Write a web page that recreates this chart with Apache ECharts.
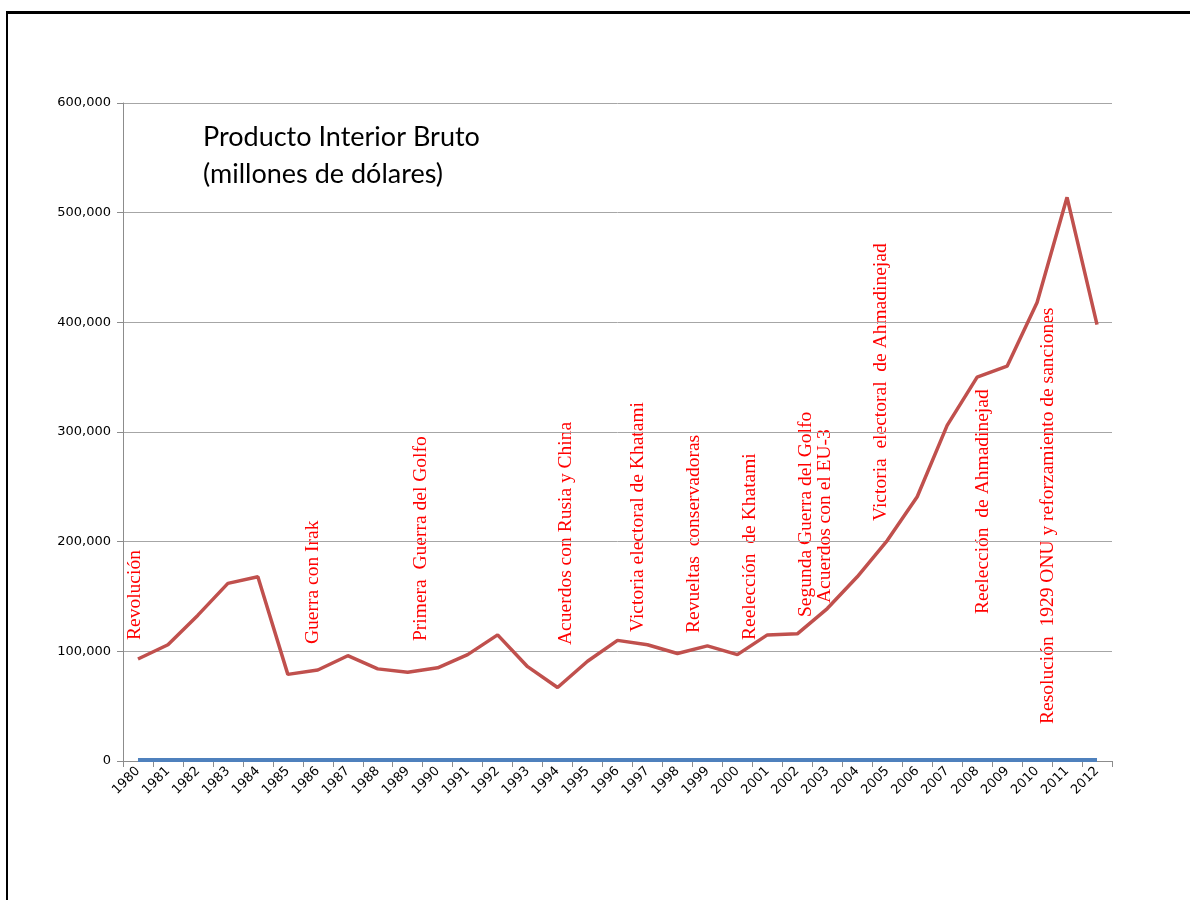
<!DOCTYPE html>
<html>
<head>
<meta charset="utf-8">
<script src="https://cdn.jsdelivr.net/npm/echarts@6/dist/echarts.min.js"></script>
<style>
  html, body { margin: 0; padding: 0; background: #fff; }
  #frame { position: absolute; left: 6px; top: 11px; width: 1190px; height: 900px;
           border-left: 2px solid #000; border-top: 3px solid #000; }
  #chart { position: absolute; left: 0; top: 0; width: 1190px; height: 900px; }
</style>
</head>
<body>
<div id="frame"></div>
<div id="chart"></div>
<script>
// años
const years = ["1980","1981","1982","1983","1984","1985","1986","1987","1988","1989","1990",
  "1991","1992","1993","1994","1995","1996","1997","1998","1999","2000","2001","2002",
  "2003","2004","2005","2006","2007","2008","2009","2010","2011","2012"];

// PIB, millones de dólares
const pib = [93000,106000,133000,162000,168000,79000,83000,96000,84000,81000,85000,
  97000,115000,86000,67000,91000,110000,106000,98000,105000,97000,115000,116000,
  139000,168000,201000,241000,306000,350000,360000,418000,514000,398000];

// segunda serie (casi cero)
const serieAzul = [1000,1000,1000,1000,1000,1000,1000,1000,1000,1000,1000,
  1000,1000,1000,1000,1000,1000,1000,1000,1000,1000,1000,1000,
  1000,1000,1000,1000,1000,1000,1000,1000,1000,1000];

// anotaciones: texto, x, y (base del texto)
const eventos = [
  ["Revolución", 135, 640],
  ["Guerra con Irak", 313, 644],
  ["Primera  Guerra del Golfo", 421, 641],
  ["Acuerdos con Rusia y China", 566, 645],
  ["Victoria electoral de Khatami", 638, 632],
  ["Revueltas  conservadoras", 694, 633],
  ["Reelección  de Khatami", 750, 640],
  ["Segunda Guerra del Golfo", 806, 617],
  ["Acuerdos con el EU-3", 825, 603],
  ["Victoria  electoral  de Ahmadinejad", 881, 521],
  ["Reelección  de Ahmadinejad", 983, 614],
  ["Resolución  1929 ONU y reforzamiento de sanciones", 1048, 724]
];

const chart = echarts.init(document.getElementById("chart"), null, { renderer: "canvas" });

const option = {
  animation: false,
  backgroundColor: "transparent",
  grid: { left: 123, right: 78, top: 103, bottom: 139 },
  xAxis: {
    type: "category",
    data: years,
    boundaryGap: true,
    axisLine: { lineStyle: { color: "#8c8c8c", width: 1 } },
    axisTick: { show: true, length: 6, inside: false, lineStyle: { color: "#8c8c8c" } },
    axisLabel: {
      interval: 0, rotate: 45, margin: 8,
      fontFamily: "DejaVu Sans", fontSize: 13, color: "#000"
    },
    splitLine: { show: false }
  },
  yAxis: {
    type: "value",
    min: 0, max: 600000, interval: 100000,
    axisLine: { show: true, lineStyle: { color: "#8c8c8c", width: 1 } },
    axisTick: { show: true, length: 6, lineStyle: { color: "#8c8c8c" } },
    axisLabel: {
      margin: 12, fontFamily: "DejaVu Sans", fontSize: 13, color: "#000",
      formatter: v => v.toLocaleString("en-US")
    },
    splitLine: { show: true, lineStyle: { color: "#a6a6a6", width: 1 } }
  },
  series: [
    {
      name: "Azul", type: "line", data: serieAzul, symbol: "none",
      lineStyle: { color: "#4f81bd", width: 4 }, z: 3
    },
    {
      name: "PIB", type: "line", data: pib, symbol: "none",
      lineStyle: { color: "#c0504d", width: 3.5 }, z: 4
    }
  ],
  graphic: [
    {
      type: "text", left: 203, top: 119,
      style: {
        text: "Producto Interior Bruto\n(millones de dólares)",
        font: "27px Lato", fill: "#000", lineHeight: 37
      }
    }
  ].concat(eventos.map(e => ({
    type: "text",
    x: e[1], y: e[2],
    rotation: Math.PI / 2,
    style: {
      text: e[0],
      font: "19.5px 'Liberation Serif'",
      fill: "#ff0000",
      align: "left",
      verticalAlign: "middle"
    }
  })))
};

chart.setOption(option);
</script>
</body>
</html>
